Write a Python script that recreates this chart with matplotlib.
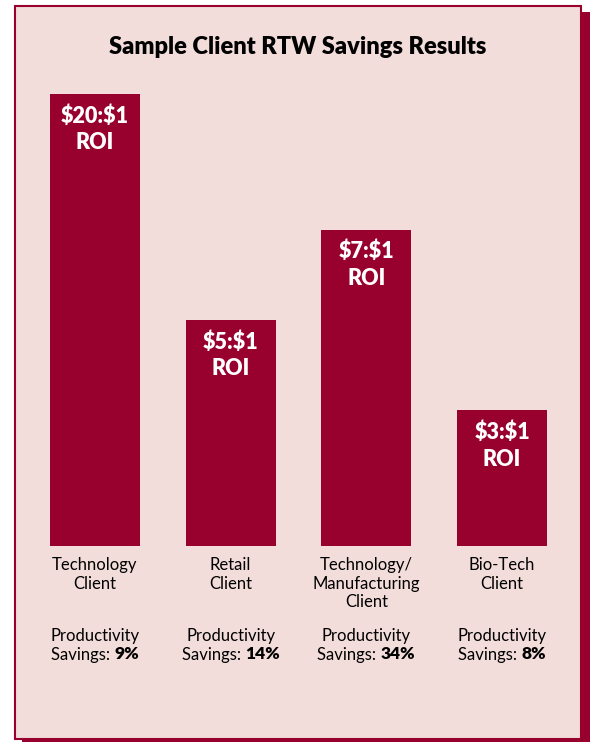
import matplotlib
matplotlib.use("Agg")
import matplotlib.pyplot as plt
from matplotlib.patches import Rectangle

# chart data
clients = ["Technology\nClient", "Retail\nClient", "Technology/\nManufacturing\nClient", "Bio-Tech\nClient"]
bar_heights = [20, 10, 14, 6]
roi_labels = ["$20:$1", "$5:$1", "$7:$1", "$3:$1"]
savings = ["9%", "14%", "34%", "8%"]

RED = "#98002e"
PINK = "#f2dddb"

plt.rcParams['font.family'] = ['Lato', 'DejaVu Sans']

fig = plt.figure(figsize=(5.9, 7.42), dpi=100)
fig.patch.set_facecolor("white")

W, H = 590.0, 742.0
# drop shadow + framed panel
fig.patches.append(Rectangle((22 / W, 0), 568 / W, 730 / H, transform=fig.transFigure,
                             facecolor=RED, edgecolor="none", zorder=0))
fig.patches.append(Rectangle((15 / W, 3 / H), 566 / W, 733 / H, transform=fig.transFigure,
                             facecolor=PINK, edgecolor=RED, linewidth=1.5, zorder=1))

fig.text(298 / W, 1 - 47 / H, "Sample Client RTW Savings Results", ha="center", va="center",
         fontsize=17, fontweight="heavy", color="black", zorder=3)

ax = fig.add_axes([27 / W, 196 / H, 543 / W, 452 / H])
ax.set_zorder(5)
ax.patch.set_alpha(0)
ax.set_xlim(-0.5, 3.5)
ax.set_ylim(0, 20)
ax.axis("off")

xs = range(len(clients))
ax.bar(xs, bar_heights, width=0.663, color=RED, zorder=2)

renderer = fig.canvas.get_renderer()
for i in xs:
    ax.annotate(roi_labels[i] + "\nROI", xy=(i, bar_heights[i]), xytext=(0, -11),
                textcoords="offset pixels", ha="center", va="top", color="white",
                fontsize=15.5, fontweight="heavy", linespacing=1.33, parse_math=False)
    ax.annotate(clients[i], xy=(i, 0), xytext=(0, -11), textcoords="offset pixels",
                ha="center", va="top", fontsize=12, linespacing=1.2, annotation_clip=False)
    ax.annotate("Productivity", xy=(i, 0), xytext=(0, -82), textcoords="offset pixels",
                ha="center", va="top", fontsize=12, annotation_clip=False)
    # second line: regular label + bold value, centred together
    t1 = ax.annotate("Savings: ", xy=(i, 0), xytext=(0, -101), textcoords="offset pixels",
                     ha="left", va="top", fontsize=12, annotation_clip=False)
    t2 = ax.annotate(savings[i], xy=(i, 0), xytext=(0, -100), textcoords="offset pixels",
                     ha="left", va="top", fontsize=12.5, fontweight="heavy", annotation_clip=False)
    w1 = t1.get_window_extent(renderer).width
    w2 = t2.get_window_extent(renderer).width
    t1.set_position((-(w1 + w2) / 2, -101))
    t2.set_position((-(w1 + w2) / 2 + w1, -100))

fig.savefig("out.png", dpi=100, facecolor=fig.get_facecolor())
